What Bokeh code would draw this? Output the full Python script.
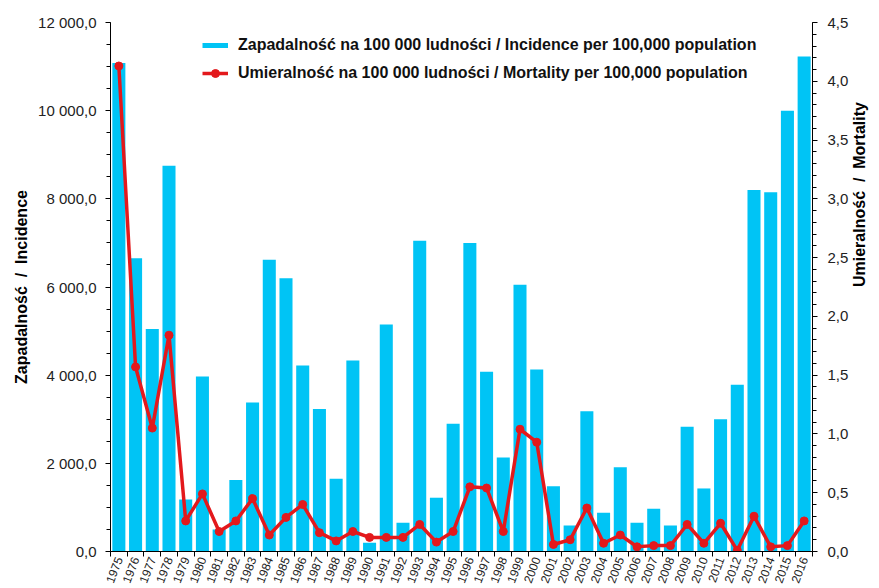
import math
from bokeh.plotting import figure
from bokeh.models import (Range1d, LinearAxis, FixedTicker, SingleIntervalTicker,
                          CustomJSTickFormatter, Legend, LegendItem, ColumnDataSource)
from bokeh.embed import file_html
from bokeh.resources import INLINE

years = ["1975", "1976", "1977", "1978", "1979", "1980", "1981", "1982", "1983", "1984",
         "1985", "1986", "1987", "1988", "1989", "1990", "1991", "1992", "1993", "1994",
         "1995", "1996", "1997", "1998", "1999", "2000", "2001", "2002", "2003", "2004",
         "2005", "2006", "2007", "2008", "2009", "2010", "2011", "2012", "2013", "2014",
         "2015", "2016"]
incidence = [11080, 6650, 5050, 8750, 1180, 3970, 500, 1620, 3380, 6620,
             6200, 4220, 3230, 1650, 4330, 200, 5150, 650, 7050, 1220,
             2900, 7000, 4080, 2130, 6050, 4130, 1480, 590, 3180, 880,
             1910, 650, 970, 590, 2830, 1430, 3000, 3780, 8200, 8150,
             10000, 11230]
mortality = [4.13, 1.57, 1.05, 1.84, 0.26, 0.49, 0.17, 0.26, 0.45, 0.14,
             0.29, 0.40, 0.16, 0.09, 0.17, 0.12, 0.12, 0.12, 0.23, 0.08,
             0.17, 0.55, 0.54, 0.17, 1.04, 0.93, 0.06, 0.10, 0.37, 0.07,
             0.14, 0.04, 0.05, 0.05, 0.23, 0.07, 0.24, 0.01, 0.30, 0.04,
             0.05, 0.26]
label_inc = "Zapadalność na 100 000 ludności / Incidence per 100,000 population"
label_mort = "Umieralność na 100 000 ludności / Mortality per 100,000 population"
axis_left = "Zapadalność\u00a0\u00a0/\u00a0\u00a0Incidence"
axis_right = "Umieralność\u00a0\u00a0/\u00a0\u00a0Mortality"

n = len(years)
xc = [i + 0.5 for i in range(n)]
src = ColumnDataSource(dict(x=xc, inc=incidence, mort=mortality, year=years))

BAR = "#00C4F5"
RED = "#E3191C"
FONT = "Liberation Sans"
TXT = "#222222"

p = figure(width=879, height=588, x_range=Range1d(0, n), y_range=Range1d(0, 12000),
           output_backend="svg", toolbar_location=None,
           min_border_left=110, min_border_right=64, min_border_top=22, min_border_bottom=37)
p.extra_y_ranges = {"mort": Range1d(0, 4.5)}
p.outline_line_color = None
p.xgrid.visible = False
p.ygrid.visible = False
p.background_fill_color = "white"

bars = p.vbar(x="x", top="inc", width=0.78, source=src, fill_color=BAR, line_color=None)
ln = p.line(x="x", y="mort", source=src, y_range_name="mort", line_color=RED, line_width=3.5)
pts = p.scatter(x="x", y="mort", source=src, y_range_name="mort", size=8,
                fill_color=RED, line_color=RED)
# legend swatch for the bars: a thick flat line drawn only in the legend
leg_inc = p.line(x=[xc[0]], y=[-1000], line_color=BAR, line_width=5, line_cap="butt")

# x axis
xa = p.xaxis[0]
xa.ticker = FixedTicker(ticks=xc, minor_ticks=list(range(n + 1)))
xa.formatter = CustomJSTickFormatter(args=dict(years=years),
                                     code="return years[Math.floor(tick)];")
xa.major_tick_line_color = None
xa.major_tick_out = 0
xa.major_tick_in = 0
xa.minor_tick_out = 5
xa.minor_tick_in = 0
xa.minor_tick_line_color = "black"
xa.axis_line_color = "black"
xa.major_label_orientation = 1.2
xa.major_label_standoff = 1
xa.major_label_text_font = FONT
xa.major_label_text_font_size = "12px"
xa.major_label_text_color = TXT

# left axis
ya = p.yaxis[0]
ya.ticker = SingleIntervalTicker(interval=2000, num_minor_ticks=4)
ya.formatter = CustomJSTickFormatter(code="""
    var s = tick.toFixed(1).split('.');
    var ip = s[0].replace(/\\B(?=(\\d{3})+(?!\\d))/g, ' ');
    return ip + ',' + s[1];
""")
ya.major_tick_out = 5
ya.major_tick_in = 0
ya.minor_tick_out = 4
ya.minor_tick_in = 0
ya.minor_tick_line_color = "black"
ya.axis_line_color = "black"
ya.major_label_standoff = 9
ya.major_label_text_font = FONT
ya.major_label_text_font_size = "15px"
ya.major_label_text_color = TXT
ya.axis_label = axis_left
ya.axis_label_text_font = FONT
ya.axis_label_text_font_style = "bold"
ya.axis_label_text_font_size = "16px"
ya.axis_label_text_color = "black"
ya.axis_label_standoff = 5

# right axis
ra = LinearAxis(y_range_name="mort",
                ticker=SingleIntervalTicker(interval=0.5, num_minor_ticks=5),
                formatter=CustomJSTickFormatter(code="return tick.toFixed(1).replace('.', ',');"))
ra.major_tick_out = 5
ra.major_tick_in = 0
ra.minor_tick_out = 4
ra.minor_tick_in = 0
ra.minor_tick_line_color = "black"
ra.axis_line_color = "black"
ra.major_label_standoff = 10
ra.major_label_text_font = FONT
ra.major_label_text_font_size = "15px"
ra.major_label_text_color = TXT
ra.axis_label = axis_right
ra.axis_label_text_font = FONT
ra.axis_label_text_font_style = "bold"
ra.axis_label_text_font_size = "16px"
ra.axis_label_text_color = "black"
ra.axis_label_standoff = 8
try:
    ra.axis_label_orientation = math.pi / 2
except Exception:
    pass
p.add_layout(ra, "right")

legend = Legend(items=[LegendItem(label=label_inc, renderers=[leg_inc]),
                       LegendItem(label=label_mort, renderers=[ln, pts])],
                location=(92, 468), orientation="vertical")
legend.border_line_color = None
legend.background_fill_alpha = 0
legend.padding = 0
legend.margin = 0
legend.spacing = 8
legend.glyph_width = 26
legend.glyph_height = 20
legend.label_height = 20
legend.label_standoff = 10
legend.label_text_font = FONT
legend.label_text_font_style = "bold"
legend.label_text_font_size = "16px"
legend.label_text_color = "#111111"
p.add_layout(legend, "center")

open("out.html", "w").write(file_html(p, INLINE))
